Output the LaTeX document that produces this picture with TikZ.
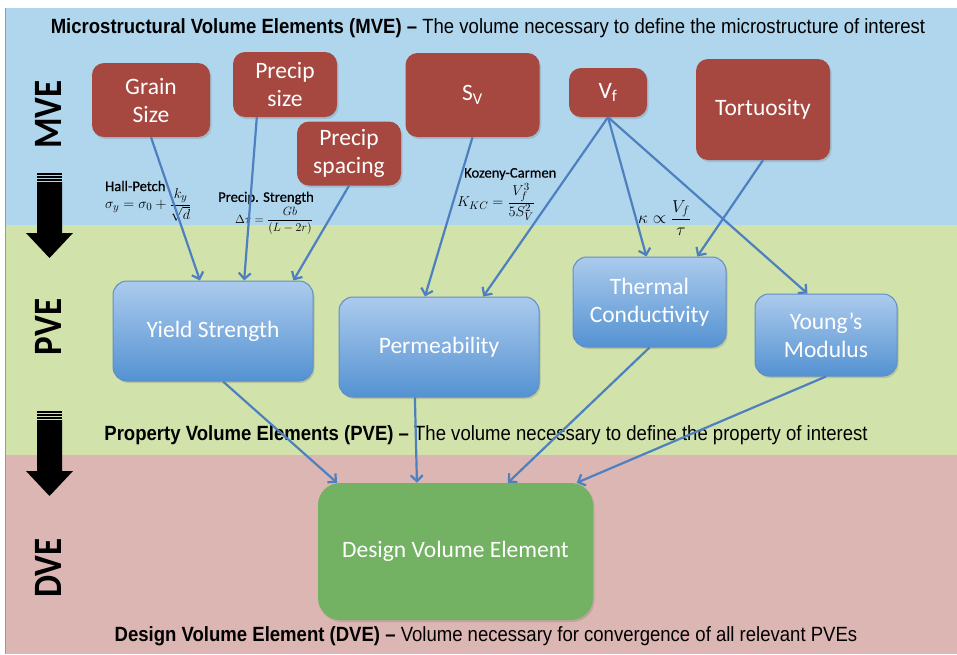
\documentclass[tikz,border=0pt]{standalone}
\usepackage{fontspec}
\usepackage{graphicx}
\setmainfont{Carlito}
\newfontfamily\arialfont[FakeStretch=0.9]{Liberation Sans}
\newfontfamily\semibold[FakeBold=0.5]{Carlito}
\usetikzlibrary{shadows,arrows.meta,calc}
\definecolor{bandblue}{RGB}{176,214,238}
\definecolor{bandgreen}{RGB}{209,226,171}
\definecolor{bandpink}{RGB}{219,182,178}
\definecolor{redc}{RGB}{166,71,64}
\definecolor{bluetop}{RGB}{172,203,237}
\definecolor{bluebot}{RGB}{84,146,210}
\definecolor{blueedge}{RGB}{96,142,198}
\definecolor{greenc}{RGB}{114,178,98}
\definecolor{arrowblue}{RGB}{78,128,192}
\tikzset{
  boxbase/.style={rectangle, inner sep=0pt, align=center, text=white,
    font=\fontsize{23.5}{28}\selectfont,
    drop shadow={opacity=0.3, shadow xshift=1.5pt, shadow yshift=-2pt}},
  redbox/.style={boxbase, rounded corners=12pt, fill=redc},
  bluebox/.style={boxbase, rounded corners=14pt, top color=bluetop, bottom color=bluebot, draw=blueedge, line width=1pt},
  greenbox/.style={boxbase, rounded corners=22pt, fill=greenc},
  conn/.style={draw=arrowblue, line width=2.2pt, -{Straight Barb[length=6pt,width=12pt]}},
  titletext/.style={font=\arialfont\fontsize{20.6}{22}\selectfont, inner sep=0pt},
  sidelabel/.style={font=\bfseries\fontsize{35}{36}\selectfont, rotate=90, inner sep=0pt},
  eqlabel/.style={font=\semibold\fontsize{14.6}{16}\selectfont, inner sep=0pt},
  eqmath/.style={font=\fontsize{15}{17}\selectfont, inner sep=0pt},
}
\begin{document}
\begin{tikzpicture}[x=1pt,y=-1pt]
\useasboundingbox (0,0) rectangle (957,654);
\fill[white] (0,0) rectangle (957,654);
\fill[bandblue] (6,8) rectangle (957,225);
\fill[bandgreen] (6,225) rectangle (957,455);
\fill[bandpink] (6,455) rectangle (957,654);
\draw[gray!80, line width=1.5pt] (5.5,8) -- (5.5,654);

% titles
\node[titletext] (t1) at (488,28) {\textbf{Microstructural Volume Elements (MVE) –} The volume necessary to define the microstructure of interest};
\node[titletext] (t2) at (486,435) {\textbf{Property Volume Elements (PVE) –} The volume necessary to define the property of interest};
\node[titletext] (t3) at (486,636) {\textbf{Design Volume Element (DVE) –} Volume necessary for convergence of all relevant PVEs};

% side labels
\node[sidelabel] (lm) at (48.5,114.5) {\scalebox{1}[1.15]{MVE}};
\node[sidelabel] (lp) at (48.5,327) {\scalebox{1}[1.15]{PVE}};
\node[sidelabel] (ld) at (48.5,568) {\scalebox{1}[1.15]{DVE}};

% big black arrows
\foreach \dy in {0,238}{
  \begin{scope}[yshift=-\dy pt]
  \fill[black] (37,173) rectangle (62,174.6);
  \fill[black] (37,176) rectangle (62,177.6);
  \fill[black] (37,179) rectangle (62,180.6);
  \fill[black] (37,182) -- (62,182) -- (62,233) -- (73,233) -- (49.5,258) -- (26,233) -- (37,233) -- cycle;
  \end{scope}
}

% MVE nodes
\node[redbox, minimum width=118pt, minimum height=74pt] (gs) at (151,100) {Grain\\Size};
\node[redbox, minimum width=104pt, minimum height=65pt] (ps) at (285,84.5) {Precip\\size};
\node[redbox, minimum width=104pt, minimum height=64pt] (sp) at (349,153.5) {Precip\\spacing};
\node[redbox, minimum width=134pt, minimum height=84pt] (sv) at (472.5,95) {S\textsubscript{V}};
\node[redbox, minimum width=78pt, minimum height=49pt] (vf) at (608,92.5) {V\textsubscript{f}};
\node[redbox, minimum width=134pt, minimum height=101pt] (to) at (763,109.5) {Tortuosity};

% PVE nodes
\node[bluebox, minimum width=200pt, minimum height=100pt] (ys) at (213,331) {Yield Strength};
\node[bluebox, minimum width=200pt, minimum height=100pt] (pm) at (439,347) {Permeability};
\node[bluebox, minimum width=153pt, minimum height=90pt] (tc) at (649.5,302) {Thermal\\Conductivity};
\node[bluebox, minimum width=142pt, minimum height=82pt] (ym) at (826,335) {Young’s\\Modulus};

% DVE node
\node[greenbox, minimum width=275pt, minimum height=137pt] (dv) at (455.5,551.5) {Design Volume Element};

% equations
\node[eqlabel, anchor=west] (hpl) at (105,186) {Hall-Petch};
\node[eqmath, anchor=west] (hpe) at (105,205) {$\displaystyle \sigma_y=\sigma_0+\frac{k_y}{\sqrt{d}}$};
\node[eqlabel, anchor=west] (psl) at (218,198) {Precip. Strength};
\node[eqmath, font=\fontsize{13}{15}\selectfont, anchor=east] (pse) at (313,221) {$\displaystyle \Delta\tau=\frac{Gb}{(L-2r)}$};
\node[eqlabel, anchor=west] (kcl) at (464,174) {Kozeny-Carmen};
\node[eqmath, anchor=west] (kce) at (457,202) {$\displaystyle K_{KC}=\frac{V_f^3}{5S_V^2}$};
\node[eqmath, font=\fontsize{18.5}{20}\selectfont, anchor=west] (kae) at (638,218) {$\displaystyle \kappa\propto\frac{V_f}{\tau}$};

% connectors MVE -> PVE
\draw[conn] (gs.south) -- ($(ys.north west)!0.435!(ys.north east)$);
\draw[conn] ($(ps.south west)!0.23!(ps.south east)$) -- ($(ys.north west)!0.655!(ys.north east)$);
\draw[conn] (sp.south) -- ($(ys.north west)!0.9!(ys.north east)$);
\draw[conn] (sv.south) -- ($(pm.north west)!0.43!(pm.north east)$);
\draw[conn] (vf.south) -- ($(pm.north west)!0.72!(pm.north east)$);
\draw[conn] (vf.south) -- ($(tc.north west)!0.48!(tc.north east)$);
\draw[conn] (vf.south) -- ($(ym.north west)!0.37!(ym.north east)$);
\draw[conn] (to.south) -- ($(tc.north west)!0.81!(tc.north east)$);

% connectors PVE -> DVE
\draw[conn] ($(ys.south west)!0.55!(ys.south east)$) -- ($(dv.north west)!0.07!(dv.north east)$);
\draw[conn] ($(pm.south west)!0.38!(pm.south east)$) -- ($(dv.north west)!0.36!(dv.north east)$);
\draw[conn] (tc.south) -- ($(dv.north west)!0.69!(dv.north east)$);
\draw[conn] (ym.south) -- ($(dv.north west)!0.94!(dv.north east)$);
\end{tikzpicture}
\end{document}
